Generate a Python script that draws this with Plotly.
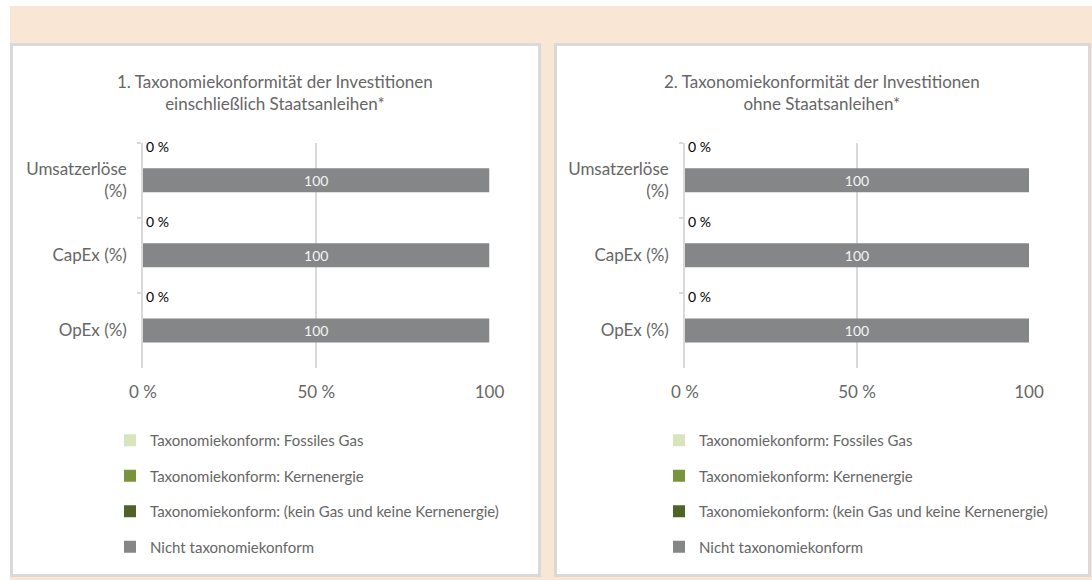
import plotly.graph_objects as go

# ---------------- data ----------------
categories = ["Umsatzerlöse<br>(%)", "CapEx (%)", "OpEx (%)"]
series_names = [
    "Taxonomiekonform: Fossiles Gas",
    "Taxonomiekonform: Kernenergie",
    "Taxonomiekonform: (kein Gas und keine Kernenergie)",
    "Nicht taxonomiekonform",
]
chart_titles = [
    "1. Taxonomiekonformität der Investitionen<br>einschließlich Staatsanleihen*",
    "2. Taxonomiekonformität der Investitionen<br>ohne Staatsanleihen*",
]
# chart 1: including sovereign bonds
incl_fossil_gas = [0, 0, 0]
incl_nuclear = [0, 0, 0]
incl_aligned_other = [0, 0, 0]
incl_not_aligned = [100, 100, 100]
# chart 2: excluding sovereign bonds
excl_fossil_gas = [0, 0, 0]
excl_nuclear = [0, 0, 0]
excl_aligned_other = [0, 0, 0]
excl_not_aligned = [100, 100, 100]

x_tickvals = [0, 50, 100]
x_ticktext = ["0 %", "50 %", "100"]

# ---------------- style ----------------
W, H = 1092, 580
FONT = "Lato"
PEACH = "#FAE6D4"
BORDER = "#D9D9DB"
GRID = "#D9D9D9"
TXT = "#666666"
colors = ["#D7E4BD", "#77933C", "#4F6228", "#858688"]


def px_x(x):
    return x / W


def px_y(y):
    return 1 - y / H


fig = go.Figure()

charts = [
    (incl_fossil_gas, incl_nuclear, incl_aligned_other, incl_not_aligned),
    (excl_fossil_gas, excl_nuclear, excl_aligned_other, excl_not_aligned),
]
axes = [("x", "y", "legend"), ("x2", "y2", "legend2")]

for ci, (series, (xa, ya, lg)) in enumerate(zip(charts, axes)):
    for si, vals in enumerate(series):
        is_not = si == 3
        kw = dict(
            x=vals, y=categories, orientation="h", name=series_names[si],
            marker=dict(color=colors[si], line=dict(width=0)),
            xaxis=xa, yaxis=ya, legend=lg, legendgroup=f"{ci}-{si}",
            hoverinfo="skip", cliponaxis=False, constraintext="none",
        )
        if is_not:
            kw.update(width=0.32, text=[f"{v}" for v in vals], texttemplate="%{text}",
                      textposition="inside", insidetextanchor="middle",
                      textfont=dict(family=FONT, size=14, color="#F4F4F4"))
        else:
            kw.update(width=0.09, offset=-0.5)
            if si == 2:
                kw.update(text=[f"{v} %" for v in vals], texttemplate="%{text}",
                          textposition="outside",
                          textfont=dict(family=FONT, size=14, color="#000000"))
        fig.add_trace(go.Bar(**kw))

# panels / background
shapes = [
    dict(type="rect", xref="paper", yref="paper", x0=px_x(10), x1=1, y0=0, y1=px_y(6),
         fillcolor=PEACH, line=dict(width=0), layer="below"),
    dict(type="rect", xref="paper", yref="paper", x0=px_x(11.5), x1=px_x(539.5),
         y0=px_y(575.5), y1=px_y(44.5), fillcolor="white",
         line=dict(color=BORDER, width=3), layer="below"),
    dict(type="rect", xref="paper", yref="paper", x0=px_x(555.5), x1=px_x(1089.5),
         y0=px_y(575.5), y1=px_y(44.5), fillcolor="white",
         line=dict(color=BORDER, width=3), layer="below"),
]

annotations = [
    dict(text=chart_titles[0], xref="paper", yref="paper", x=px_x(275), y=px_y(92.5),
         xanchor="center", yanchor="middle", showarrow=False,
         font=dict(family=FONT, size=17, color=TXT)),
    dict(text=chart_titles[1], xref="paper", yref="paper", x=px_x(822), y=px_y(92.5),
         xanchor="center", yanchor="middle", showarrow=False,
         font=dict(family=FONT, size=17, color=TXT)),
]

xaxis_common = dict(range=[0, 100], tickvals=x_tickvals, ticktext=x_ticktext,
                    showgrid=True, gridcolor=GRID, gridwidth=1.5, zeroline=False,
                    showline=False, ticks="", ticklabelstandoff=12, automargin=False,
                    tickfont=dict(family=FONT, size=17, color=TXT), fixedrange=True)
yaxis_common = dict(type="category", categoryorder="array", categoryarray=categories,
                    range=[2.5, -0.5], showgrid=False, showline=True, linecolor=GRID,
                    linewidth=1.5, ticks="outside", tickson="boundaries", ticklen=4,
                    tickcolor=GRID, tickwidth=1.5, ticklabelstandoff=11, automargin=False,
                    tickfont=dict(family=FONT, size=17, color=TXT), fixedrange=True)

y_dom = [px_y(368), px_y(142.7)]
legend_common = dict(orientation="v", traceorder="grouped", tracegroupgap=13,
                     bgcolor="rgba(0,0,0,0)", borderwidth=0,
                     font=dict(family=FONT, size=15, color=TXT),
                     xanchor="left", yanchor="top", itemclick=False, itemdoubleclick=False)

fig.update_layout(
    width=W, height=H, margin=dict(l=0, r=0, t=0, b=0, autoexpand=False), autosize=False,
    paper_bgcolor="white", plot_bgcolor="white",
    barmode="overlay", showlegend=True,
    xaxis=dict(domain=[px_x(143), px_x(489.5)], anchor="y", **xaxis_common),
    yaxis=dict(domain=y_dom, anchor="x", **yaxis_common),
    xaxis2=dict(domain=[px_x(685), px_x(1029)], anchor="y2", **xaxis_common),
    yaxis2=dict(domain=y_dom, anchor="x2", **yaxis_common),
    legend=dict(x=px_x(110), y=px_y(424), **legend_common),
    legend2=dict(x=px_x(659), y=px_y(424), **legend_common),
    shapes=shapes, annotations=annotations,
    font=dict(family=FONT),
)

fig.write_html(
    "out.html",
    config=dict(displayModeBar=False, responsive=False),
    post_script="document.body.style.margin='0';document.body.style.overflow='hidden';",
)
